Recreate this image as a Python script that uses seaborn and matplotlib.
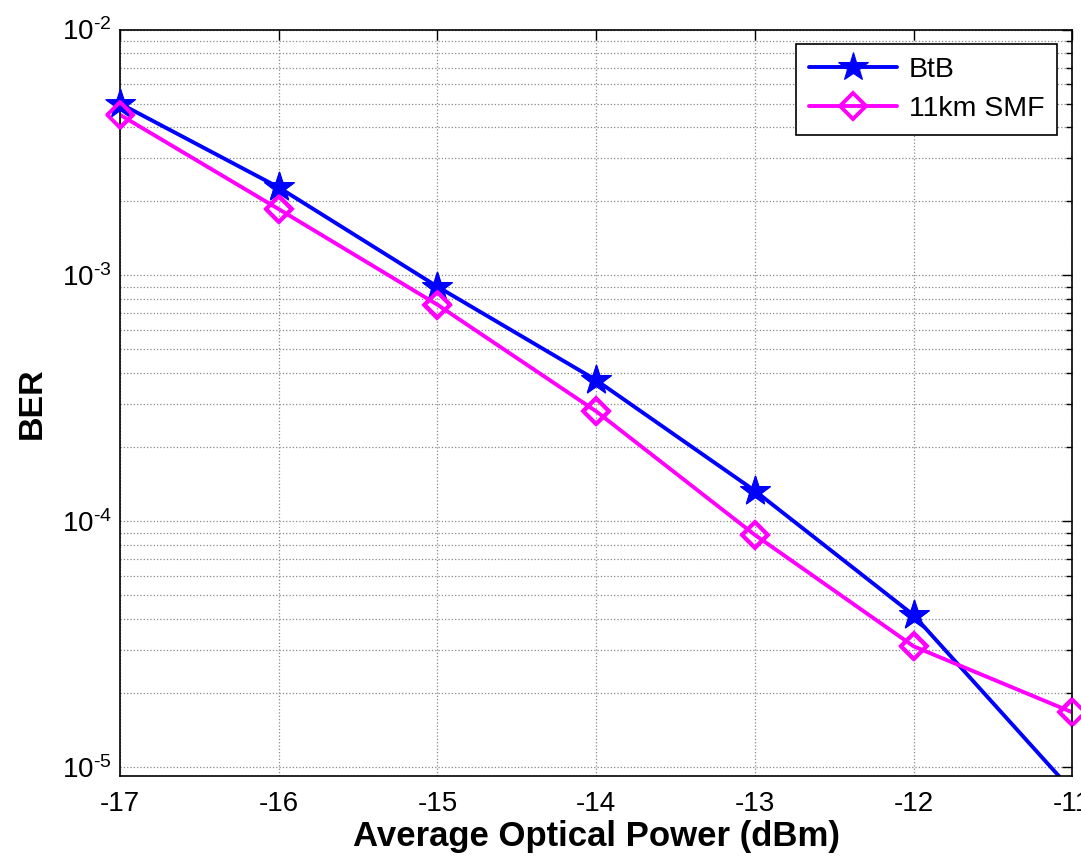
import numpy as np
import pandas as pd
import matplotlib
matplotlib.use("Agg")
import matplotlib.pyplot as plt
import seaborn as sns
from matplotlib.ticker import LogLocator, FixedLocator, FuncFormatter

power = [-17, -16, -15, -14, -13, -12, -11]
ber_btb = [5.0e-3, 2.28e-3, 9.0e-4, 3.75e-4, 1.33e-4, 4.15e-5, 8.0e-6]
ber_smf = [4.5e-3, 1.86e-3, 7.6e-4, 2.8e-4, 8.8e-5, 3.1e-5, 1.67e-5]
series_names = ["BtB", "11km SMF"]
x_ticks = [-17, -16, -15, -14, -13, -12, -11]
y_limits = (9.2e-6, 1e-2)

sns.set_style("white")
plt.rcParams['font.family'] = ['Liberation Sans', 'DejaVu Sans']
plt.rcParams['mathtext.fontset'] = 'custom'
plt.rcParams['mathtext.rm'] = 'Liberation Sans'
plt.rcParams['mathtext.it'] = 'Liberation Sans'
plt.rcParams['mathtext.default'] = 'regular'
plt.rcParams['text.color'] = 'black'
plt.rcParams['axes.labelcolor'] = 'black'
plt.rcParams['xtick.color'] = 'black'
plt.rcParams['ytick.color'] = 'black'

df = pd.DataFrame({
    "power": power * 2,
    "ber": ber_btb + ber_smf,
    "series": [series_names[0]] * len(power) + [series_names[1]] * len(power),
})

fig = plt.figure(figsize=(10.81, 8.61), dpi=100)
ax = fig.add_axes([0.111, 0.0987, 0.881, 0.867])

blue = (0, 0, 1)
mag = (1, 0, 1)
d_btb = df[df.series == series_names[0]]
d_smf = df[df.series == series_names[1]]

sns.lineplot(data=d_btb, x="power", y="ber", ax=ax,
             color=blue, lw=2.8, marker="*", markersize=22,
             markerfacecolor=blue, markeredgecolor=blue,
             label=series_names[0])
sns.lineplot(data=d_smf, x="power", y="ber", ax=ax,
             color=mag, lw=2.8, marker="D", markersize=13,
             markerfacecolor="none", markeredgecolor=mag, markeredgewidth=2.8,
             label=series_names[1])

# markers at points inside the y range are drawn unclipped (MATLAB style)
in_btb = d_btb[(d_btb.ber >= y_limits[0]) & (d_btb.ber <= y_limits[1])]
in_smf = d_smf[(d_smf.ber >= y_limits[0]) & (d_smf.ber <= y_limits[1])]
sns.scatterplot(data=in_btb, x="power", y="ber", ax=ax, marker="*", s=22 ** 2,
                color=blue, edgecolor=blue, linewidth=1, clip_on=False,
                legend=False, zorder=5)
sns.scatterplot(data=in_smf, x="power", y="ber", ax=ax, marker="D", s=13 ** 2,
                facecolor="none", edgecolor=mag, linewidth=2.8, clip_on=False,
                legend=False, zorder=5)

ax.set_yscale("log")
ax.set_xlim(-17, -11)
ax.set_ylim(*y_limits)
ax.xaxis.set_major_locator(FixedLocator(x_ticks))
ax.set_xticklabels([str(t) for t in x_ticks])
ax.yaxis.set_major_locator(LogLocator(base=10, numticks=10))
ax.yaxis.set_minor_locator(LogLocator(base=10, subs=np.arange(2, 10), numticks=20))
ax.yaxis.set_major_formatter(FuncFormatter(
    lambda v, p: "$10^{\u2010%d}$" % int(round(-np.log10(v)))))

ax.grid(True, which="major", axis="both", color="#888888", linestyle=":", linewidth=0.9)
ax.grid(True, which="minor", axis="y", color="#888888", linestyle=":", linewidth=0.9)

ax.tick_params(which="both", direction="in", top=True, right=True, color="black")
ax.tick_params(which="major", length=7, width=1.0, labelsize=20)
ax.tick_params(axis="x", which="major", pad=11)
ax.tick_params(axis="y", which="major", pad=6)
ax.tick_params(which="minor", length=4, width=1.0)

for s in ax.spines.values():
    s.set_visible(True)
    s.set_color("black")
    s.set_linewidth(1.2)

ax.set_xlabel("Average Optical Power (dBm)", fontsize=25, fontweight="bold", labelpad=2)
ax.set_ylabel("BER", fontsize=24.5, fontweight="bold", labelpad=10)

leg = ax.legend(loc="upper right", bbox_to_anchor=(0.984, 0.98), fontsize=20.5,
                frameon=True, fancybox=False, framealpha=1, edgecolor="black",
                handlelength=3.1, handletextpad=0.4, borderpad=0.45, labelspacing=0.45,
                borderaxespad=0)
leg.get_frame().set_linewidth(1.2)
leg.set_zorder(10)

fig.savefig("out.png", dpi=100)
